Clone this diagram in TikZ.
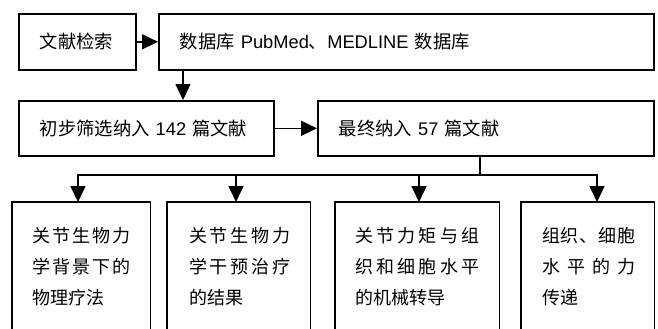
\documentclass[tikz,border=0pt]{standalone}
\usepackage{fontspec}
\setmainfont{Liberation Sans}
\newfontfamily\cjk{Noto Sans CJK SC}
\usetikzlibrary{arrows.meta,calc}
\newcommand\sline[2]{\hbox to #1pt{#2}}
\tikzset{
  lw/.style={line width=1.6pt},
  topbox/.style={lw, draw, rectangle, anchor=north west, inner xsep=21pt, inner ysep=0pt,
    align=left, font=\fontsize{18.3}{22}\selectfont},
  botbox/.style={rectangle, anchor=north west, inner sep=0pt, minimum height=140pt},
  bottext/.style={anchor=north west, inner sep=0pt, align=left,
    font=\fontsize{18}{31}\selectfont\cjk},
  arr/.style={lw, -{Triangle[length=16pt,width=15pt]}},
  con/.style={lw}
}
\begin{document}
\begin{tikzpicture}[x=1pt,y=-1pt]
\useasboundingbox (0,0) rectangle (658,329);
% top row
\node[topbox, text width=75pt, minimum height=56pt] (b1) at (18,13) {{\cjk 文献检索}};
\node[topbox, text width=453pt, minimum height=56pt] (b2) at (158,13) {{\cjk 数据库} PubMed{\cjk 、}MEDLINE {\cjk 数据库}};
% second row
\node[topbox, text width=213pt, minimum height=55pt] (b3) at (18,100) {{\cjk 初步筛选纳入} 142 {\cjk 篇文献}};
\node[topbox, text width=294pt, minimum height=55pt] (b4) at (317,100) {{\cjk 最终纳入} 57 {\cjk 篇文献}};
% bottom boxes (open at the bottom)
\node[botbox, minimum width=138pt] (ba) at (12,202) {};
\node[botbox, minimum width=143pt] (bb) at (167,202) {};
\node[botbox, minimum width=164pt] (bc) at (335,202) {};
\node[botbox, minimum width=133pt] (bd) at (521,202) {};
\foreach \b in {ba,bb,bc,bd}{
  \draw[lw] (\b.south west) -- (\b.north west) -- (\b.north east) -- (\b.south east);
}
\node[bottext] (ta) at (32,227) {\sline{98}{关\hfill 节\hfill 生\hfill 物\hfill 力}\\
  \sline{98}{学\hfill 背\hfill 景\hfill 下\hfill 的}\\ 物理疗法};
\node[bottext] (tb) at (189,227) {\sline{101}{关\hfill 节\hfill 生\hfill 物\hfill 力}\\
  \sline{101}{学\hfill 干\hfill 预\hfill 治\hfill 疗}\\ 的结果};
\node[bottext] (tc) at (355,227) {\sline{124}{关\hfill 节\hfill 力\hfill 矩\hfill 与\hfill 组}\\
  \sline{124}{织\hfill 和\hfill 细\hfill 胞\hfill 水\hfill 平}\\ 的机械转导};
\node[bottext] (td) at (542,227) {\sline{93}{组\hfill 织\hfill 、\hfill 细\hfill 胞}\\
  \sline{93}{水\hfill 平\hfill 的\hfill 力}\\ 传递};
% connectors
\draw[arr] (b1.east) -- (b2.west);
\draw[arr] ([xshift=25pt]b2.south west) -- ([xshift=165pt]b3.north west);
\draw[arr] (b3.east) -- (b4.west);
\coordinate (j) at (480,175);
\draw[con] ([xshift=163pt]b4.south west) -- (j);
\draw[arr] (j) -| ([xshift=66pt]ba.north west);
\draw[arr] (j) -| ([xshift=69pt]bb.north west);
\draw[arr] (j) -| ([xshift=84pt]bc.north west);
\draw[arr] (j) -| ([xshift=76pt]bd.north west);
\end{tikzpicture}
\end{document}
